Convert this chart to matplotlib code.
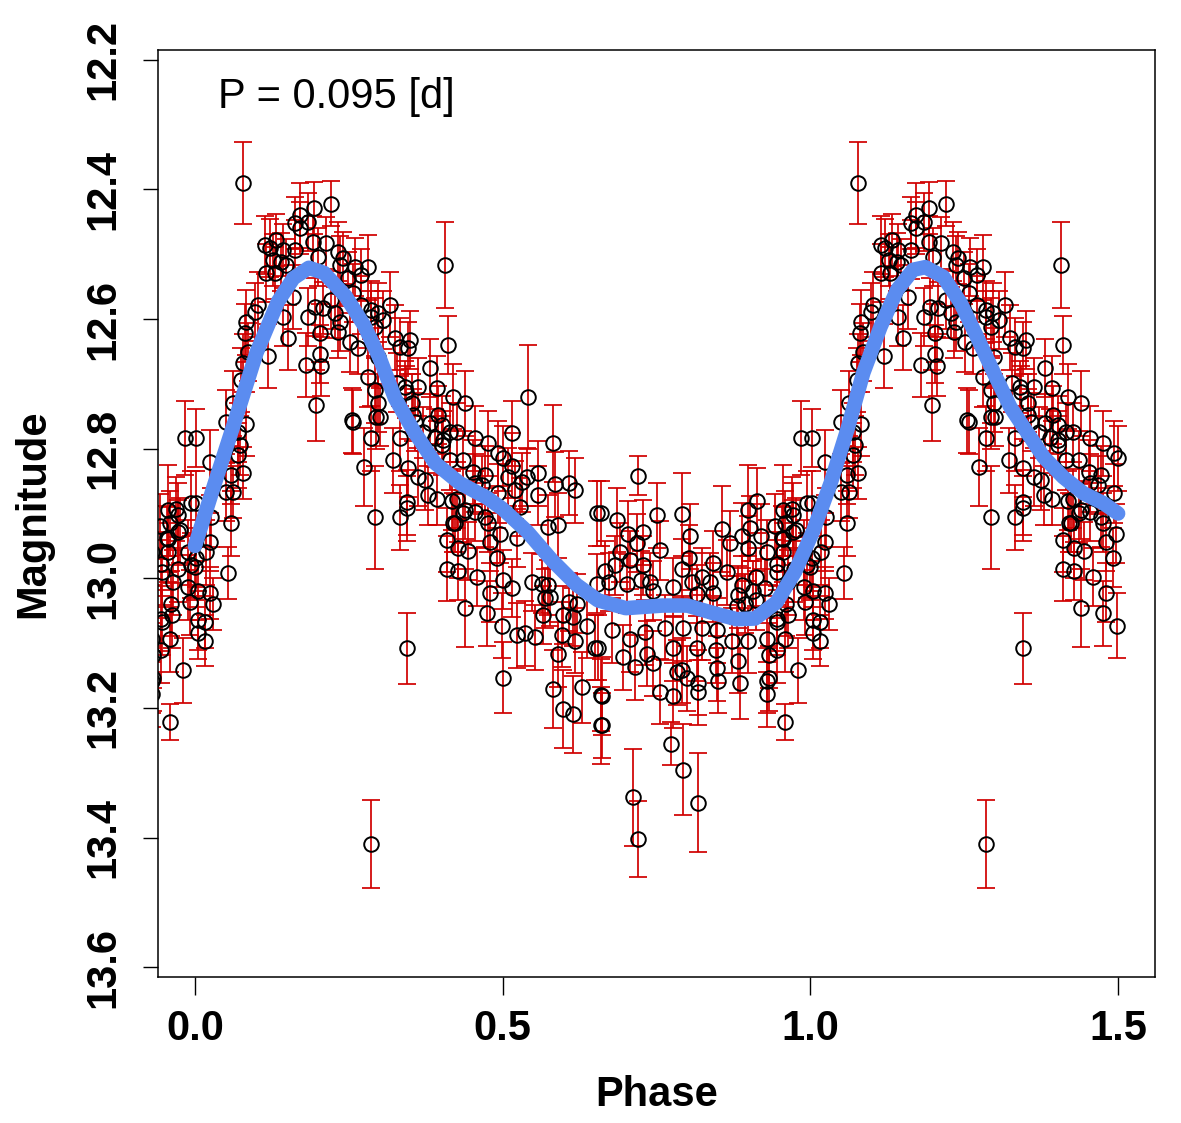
import numpy as np
import matplotlib
matplotlib.use('Agg')
import matplotlib.pyplot as plt

plt.rcParams['font.family'] = ['Liberation Sans', 'DejaVu Sans']

# folded light curve, phase 0..1
# rising branch
rise_phase = [0.002, 0.024, 0.002, 0.024, 0.018, 0.002, 0.000, 0.054, 0.005, 0.024,
              0.030, 0.005, 0.016, 0.005, 0.016, 0.050, 0.083, 0.070, 0.073, 0.070,
              0.078, 0.059, 0.050, 0.062, 0.059, 0.026]
rise_mag = [12.784, 12.821, 12.884, 12.944, 12.960, 12.968, 12.983, 12.992, 13.019, 13.022,
            13.039, 13.065, 13.068, 13.085, 13.096, 12.759, 12.762, 12.775, 12.795, 12.810,
            12.838, 12.841, 12.867, 12.867, 12.915, 12.906]
rise_err = [0.045, 0.050, 0.050, 0.045, 0.050, 0.045, 0.050, 0.040, 0.045, 0.040,
            0.040, 0.045, 0.040, 0.040, 0.040, 0.050, 0.050, 0.045, 0.045, 0.050,
            0.040, 0.045, 0.045, 0.040, 0.050, 0.045]

# maximum
peak_phase = [0.078, 0.171, 0.193, 0.221, 0.163, 0.171, 0.184, 0.114, 0.132, 0.122,
              0.143, 0.163, 0.192, 0.213, 0.200, 0.232, 0.240, 0.127, 0.140, 0.148,
              0.115, 0.130, 0.236, 0.260, 0.281, 0.249, 0.270, 0.257, 0.159, 0.221,
              0.102, 0.098, 0.195, 0.208, 0.184, 0.270, 0.286, 0.286, 0.143, 0.083,
              0.228, 0.236, 0.233, 0.081, 0.151, 0.203, 0.252, 0.265, 0.293, 0.086,
              0.119, 0.203, 0.180, 0.205, 0.078, 0.075, 0.281, 0.293, 0.197, 0.062,
              0.257, 0.294, 0.255, 0.286, 0.274, 0.293]
peak_mag = [12.390, 12.440, 12.429, 12.422, 12.452, 12.459, 12.450, 12.486, 12.478, 12.490,
            12.493, 12.493, 12.481, 12.483, 12.504, 12.496, 12.506, 12.509, 12.512, 12.517,
            12.529, 12.529, 12.517, 12.520, 12.520, 12.537, 12.532, 12.560, 12.566, 12.571,
            12.578, 12.589, 12.581, 12.583, 12.597, 12.578, 12.586, 12.597, 12.597, 12.605,
            12.590, 12.605, 12.620, 12.622, 12.629, 12.622, 12.636, 12.645, 12.612, 12.651,
            12.657, 12.654, 12.671, 12.673, 12.668, 12.694, 12.690, 12.710, 12.733, 12.730,
            12.759, 12.751, 12.756, 12.784, 12.828, 12.906]
peak_err = [0.063, 0.050, 0.040, 0.035, 0.040, 0.040, 0.045, 0.045, 0.040, 0.045,
            0.040, 0.045, 0.040, 0.040, 0.045, 0.045, 0.040, 0.040, 0.045, 0.040,
            0.045, 0.040, 0.045, 0.045, 0.050, 0.040, 0.040, 0.045, 0.050, 0.045,
            0.050, 0.045, 0.045, 0.040, 0.045, 0.045, 0.045, 0.040, 0.045, 0.050,
            0.040, 0.045, 0.040, 0.045, 0.050, 0.045, 0.045, 0.040, 0.045, 0.045,
            0.050, 0.045, 0.050, 0.045, 0.045, 0.050, 0.045, 0.050, 0.055, 0.050,
            0.050, 0.050, 0.050, 0.050, 0.060, 0.080]

# descending branch
fall_phase = [0.407, 0.411, 0.317, 0.297, 0.306, 0.325, 0.350, 0.333, 0.346, 0.382,
              0.298, 0.393, 0.363, 0.341, 0.328, 0.419, 0.439, 0.541, 0.298, 0.343,
              0.353, 0.300, 0.354, 0.358, 0.382, 0.395, 0.402, 0.415, 0.426, 0.371,
              0.333, 0.390, 0.403, 0.455, 0.476, 0.515, 0.582, 0.402, 0.493, 0.500,
              0.322, 0.346, 0.415, 0.436, 0.515, 0.363, 0.374, 0.452, 0.472, 0.509,
              0.558, 0.540, 0.532, 0.585, 0.607, 0.618, 0.455, 0.493, 0.558, 0.520,
              0.379, 0.393, 0.418, 0.426, 0.345, 0.345, 0.333, 0.436, 0.472, 0.528,
              0.654, 0.423, 0.574, 0.590]
fall_mag = [12.517, 12.640, 12.578, 12.590, 12.602, 12.629, 12.632, 12.643, 12.645, 12.676,
            12.659, 12.707, 12.705, 12.705, 12.698, 12.720, 12.730, 12.720, 12.730, 12.712,
            12.730, 12.751, 12.748, 12.759, 12.761, 12.748, 12.764, 12.775, 12.775, 12.775,
            12.784, 12.784, 12.787, 12.784, 12.792, 12.776, 12.792, 12.795, 12.807, 12.815,
            12.818, 12.830, 12.818, 12.818, 12.826, 12.844, 12.849, 12.836, 12.841, 12.844,
            12.838, 12.844, 12.852, 12.855, 12.853, 12.864, 12.853, 12.869, 12.872, 12.864,
            12.872, 12.877, 12.880, 12.877, 12.883, 12.892, 12.906, 12.900, 12.906, 12.890,
            12.900, 12.915, 12.921, 12.918]
fall_err = [0.066, 0.045, 0.050, 0.045, 0.045, 0.050, 0.045, 0.045, 0.040, 0.045,
            0.045, 0.050, 0.045, 0.040, 0.045, 0.050, 0.050, 0.080, 0.045, 0.040,
            0.045, 0.045, 0.040, 0.045, 0.045, 0.045, 0.045, 0.045, 0.045, 0.040,
            0.050, 0.045, 0.045, 0.050, 0.050, 0.050, 0.060, 0.045, 0.050, 0.050,
            0.050, 0.045, 0.045, 0.045, 0.050, 0.045, 0.045, 0.050, 0.045, 0.045,
            0.050, 0.045, 0.045, 0.050, 0.050, 0.050, 0.045, 0.045, 0.045, 0.045,
            0.045, 0.040, 0.045, 0.045, 0.050, 0.050, 0.050, 0.045, 0.045, 0.045,
            0.050, 0.045, 0.050, 0.050]

# lower part of the descent
dip_phase = [0.439, 0.455, 0.467, 0.420, 0.476, 0.496, 0.524, 0.410, 0.480, 0.428,
             0.444, 0.491, 0.410, 0.428, 0.459, 0.501, 0.515, 0.480, 0.548, 0.564,
             0.574, 0.569, 0.577, 0.566, 0.598, 0.615, 0.607, 0.621, 0.439, 0.475,
             0.499, 0.524, 0.537, 0.553, 0.597, 0.618, 0.637, 0.590, 0.650, 0.345,
             0.501, 0.582, 0.629, 0.598, 0.615, 0.659, 0.659]
dip_mag = [12.895, 12.898, 12.856, 12.914, 12.914, 12.931, 12.938, 12.941, 12.944, 12.954,
           12.958, 12.968, 12.985, 12.989, 12.998, 13.002, 13.015, 13.022, 13.006, 13.008,
           13.011, 13.031, 13.029, 13.057, 13.057, 13.060, 13.037, 13.039, 13.046, 13.054,
           13.073, 13.088, 13.085, 13.091, 13.087, 13.096, 13.073, 13.117, 13.107, 13.108,
           13.153, 13.171, 13.168, 13.202, 13.210, 13.227, 13.180]
dip_err = [0.045, 0.045, 0.045, 0.045, 0.045, 0.045, 0.045, 0.050, 0.045, 0.045,
           0.045, 0.045, 0.050, 0.045, 0.045, 0.045, 0.045, 0.045, 0.045, 0.045,
           0.045, 0.045, 0.045, 0.045, 0.045, 0.045, 0.045, 0.045, 0.060, 0.050,
           0.050, 0.050, 0.050, 0.050, 0.050, 0.050, 0.050, 0.050, 0.050, 0.055,
           0.055, 0.060, 0.055, 0.060, 0.060, 0.060, 0.055]

# minimum plateau
flat_phase = [0.720, 0.659, 0.686, 0.751, 0.792, 0.857, 0.870, 0.889, 0.899, 0.914,
              0.902, 0.919, 0.943, 0.956, 0.972, 0.956, 0.956, 0.972, 0.930, 0.899,
              0.984, 0.704, 0.719, 0.728, 0.805, 0.756, 0.691, 0.707, 0.728, 0.802,
              0.792, 0.841, 0.865, 0.946, 0.964, 0.667, 0.683, 0.653, 0.672, 0.702,
              0.724, 0.740, 0.745, 0.776, 0.808, 0.824, 0.837, 0.816, 0.842, 0.889,
              0.911, 0.927, 0.906, 0.883, 0.894, 0.911, 0.881, 0.992, 0.963, 0.946,
              0.678, 0.707, 0.732, 0.764, 0.793, 0.824, 0.849, 0.873, 0.899, 0.930,
              0.959, 0.655, 0.696, 0.735, 0.715, 0.745, 0.777, 0.816, 0.846, 0.883,
              0.932, 0.792, 0.849, 0.980]
flat_mag = [12.842, 12.900, 12.910, 12.903, 12.901, 12.924, 12.946, 12.934, 12.895, 12.880,
            12.923, 12.935, 12.920, 12.895, 12.903, 12.940, 12.960, 12.929, 12.960, 12.954,
            12.784, 12.931, 12.946, 12.929, 12.935, 12.957, 12.960, 12.972, 12.980, 12.968,
            12.985, 12.977, 12.991, 12.991, 13.006, 12.988, 12.980, 13.008, 13.006, 13.008,
            13.003, 13.006, 13.019, 13.014, 13.006, 12.998, 13.006, 13.024, 13.022, 13.011,
            12.998, 13.015, 13.019, 13.026, 13.039, 13.034, 13.042, 13.037, 13.057, 13.068,
            13.080, 13.094, 13.083, 13.076, 13.077, 13.076, 13.080, 13.096, 13.096, 13.094,
            13.094, 13.107, 13.122, 13.116, 13.137, 13.131, 13.108, 13.108, 13.111, 13.127,
            13.119, 13.142, 13.139, 13.142]
flat_err = [0.030, 0.050, 0.050, 0.050, 0.064, 0.067, 0.050, 0.050, 0.070, 0.050,
            0.050, 0.050, 0.050, 0.070, 0.050, 0.050, 0.045, 0.050, 0.050, 0.050,
            0.057, 0.050, 0.045, 0.050, 0.050, 0.045, 0.045, 0.045, 0.045, 0.050,
            0.045, 0.050, 0.050, 0.050, 0.050, 0.045, 0.045, 0.045, 0.045, 0.045,
            0.045, 0.045, 0.045, 0.045, 0.045, 0.045, 0.045, 0.045, 0.045, 0.045,
            0.045, 0.045, 0.045, 0.045, 0.045, 0.045, 0.045, 0.050, 0.050, 0.050,
            0.050, 0.050, 0.050, 0.050, 0.050, 0.050, 0.050, 0.050, 0.050, 0.050,
            0.050, 0.050, 0.050, 0.050, 0.050, 0.050, 0.050, 0.050, 0.050, 0.050,
            0.050, 0.050, 0.050, 0.050]

# faint tail / outliers and end of cycle
tail_phase = [0.756, 0.776, 0.784, 0.800, 0.818, 0.818, 0.850, 0.886, 0.930, 0.930,
              0.959, 0.662, 0.662, 0.774, 0.793, 0.711, 0.720, 0.818, 0.286, 0.959,
              0.976, 0.954, 0.932, 0.970, 0.989, 0.994, 0.973, 0.945, 0.989, 0.961,
              0.945, 0.945, 0.994]
tail_mag = [13.175, 13.181, 13.145, 13.154, 13.161, 13.176, 13.158, 13.162, 13.158, 13.179,
            13.222, 13.181, 13.227, 13.255, 13.295, 13.338, 13.402, 13.346, 13.410, 12.915,
            12.926, 12.938, 13.154, 12.893, 12.960, 12.980, 12.986, 12.978, 13.014, 13.039,
            13.062, 13.111, 12.884]
tail_err = [0.050, 0.050, 0.050, 0.050, 0.050, 0.050, 0.050, 0.055, 0.050, 0.050,
            0.028, 0.060, 0.050, 0.033, 0.070, 0.075, 0.058, 0.076, 0.068, 0.050,
            0.050, 0.050, 0.050, 0.050, 0.050, 0.050, 0.050, 0.050, 0.050, 0.050,
            0.050, 0.050, 0.050]

# smooth fit drawn over the data
fit_phase = [0.0, 0.03, 0.065, 0.10, 0.135, 0.16, 0.185, 0.21, 0.245, 0.275,
             0.30, 0.325, 0.355, 0.39, 0.43, 0.475, 0.50, 0.54, 0.58, 0.62,
             0.655, 0.70, 0.76, 0.80, 0.84, 0.88, 0.91, 0.945, 0.975, 1.005,
             1.033, 1.06, 1.086, 1.114, 1.141, 1.167, 1.187, 1.216, 1.244, 1.271,
             1.298, 1.325, 1.353, 1.379, 1.411, 1.444, 1.476, 1.50]
fit_mag = [12.950, 12.860, 12.757, 12.652, 12.573, 12.537, 12.521, 12.529, 12.565, 12.610,
           12.660, 12.722, 12.772, 12.822, 12.853, 12.876, 12.893, 12.928, 12.972, 13.010,
           13.034, 13.046, 13.042, 13.042, 13.053, 13.063, 13.062, 13.037, 12.990, 12.926,
           12.853, 12.771, 12.683, 12.612, 12.555, 12.524, 12.520, 12.535, 12.575, 12.628,
           12.683, 12.736, 12.776, 12.813, 12.844, 12.869, 12.884, 12.900]

period = 0.095

phase = np.array(rise_phase + peak_phase + fall_phase + dip_phase + flat_phase + tail_phase)
mag = np.array(rise_mag + peak_mag + fall_mag + dip_mag + flat_mag + tail_mag)
err = np.array(rise_err + peak_err + fall_err + dip_err + flat_err + tail_err)

# repeat the cycle: first half again after 1, last bit before 0
hi = phase <= 0.5
lo = phase >= 0.93
x = np.concatenate([phase, phase[hi] + 1, phase[lo] - 1])
y = np.concatenate([mag, mag[hi], mag[lo]])
e = np.concatenate([err, err[hi], err[lo]])

fig = plt.figure(figsize=(11.81, 11.23), dpi=100)
ax = fig.add_axes([0.1338, 0.1300, 0.8442, 0.8255])

ax.errorbar(x, y, yerr=e, fmt='none', ecolor='#d00000', elinewidth=1.25,
            capsize=6.5, capthick=1.25, zorder=1)
ax.plot(x, y, 'o', mfc='none', mec='black', ms=10.5, mew=1.4, zorder=2)
ax.plot(fit_phase, fit_mag, color='#5b8cf0', lw=10.5, solid_capstyle='round',
        solid_joinstyle='round', zorder=3)

ax.set_xlim(-0.06, 1.56)
ax.set_ylim(13.615, 12.185)

xt = [0.0, 0.5, 1.0, 1.5]
yt = [12.2, 12.4, 12.6, 12.8, 13.0, 13.2, 13.4, 13.6]
ax.set_xticks(xt)
ax.set_xticklabels(['%.1f' % v for v in xt], fontweight='bold', fontsize=30)
ax.set_yticks(yt)
ax.set_yticklabels(['%.1f' % v for v in yt], fontweight='bold', fontsize=30,
                   rotation=90, va='center')
ax.tick_params(axis='x', direction='out', length=13, width=1.0, pad=10)
ax.tick_params(axis='y', direction='out', length=11, width=1.0, pad=14)
for s in ax.spines.values():
    s.set_linewidth(1.1)

ax.set_xlabel('Phase', fontweight='bold', fontsize=30, va='center')
ax.xaxis.set_label_coords(0.5, -0.127)
ax.set_ylabel('Magnitude', fontweight='bold', fontsize=30, va='center')
ax.yaxis.set_label_coords(-0.125, 0.50)

ax.text(0.037, 12.257, 'P = %.3f [d]' % period, fontsize=30, ha='left', va='center')

fig.savefig('out.png', dpi=100)
